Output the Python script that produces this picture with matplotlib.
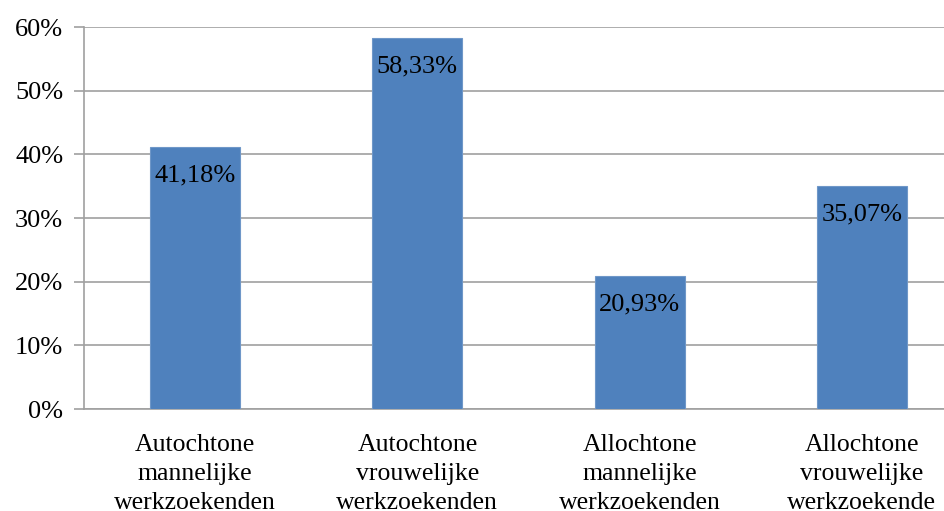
import matplotlib
matplotlib.use("Agg")
import matplotlib.pyplot as plt

categories = ["Autochtone\nmannelijke\nwerkzoekenden",
              "Autochtone\nvrouwelijke\nwerkzoekenden",
              "Allochtone\nmannelijke\nwerkzoekenden",
              "Allochtone\nvrouwelijke\nwerkzoekende"]
values = [41.18, 58.33, 20.93, 35.07]
value_labels = ["41,18%", "58,33%", "20,93%", "35,07%"]
yticks = [0, 10, 20, 30, 40, 50, 60]
ytick_labels = ["0%", "10%", "20%", "30%", "40%", "50%", "60%"]

plt.rcParams['font.family'] = ['Liberation Serif', 'DejaVu Serif']

fig = plt.figure(figsize=(9.44, 5.11), dpi=100)
ax = fig.add_axes([84/944, (511-409)/511, 889/944, (409-27)/511])

x = list(range(len(categories)))
ax.bar(x, values, width=0.405, color="#4F81BD", edgecolor="#6F97C8", linewidth=0.8, zorder=3)
ax.set_xlim(-0.5, len(categories) - 0.5)
ax.set_ylim(0, 60)
ax.set_yticks(yticks)
ax.set_yticklabels(ytick_labels, fontsize=19)
ax.set_xticks(x)
ax.set_xticklabels(categories, fontsize=18.5, linespacing=1.4)
ax.tick_params(axis='x', length=0, pad=18)
ax.tick_params(axis='y', length=7, width=1.2, color="#A0A0A0", pad=8)

ax.grid(axis='y', color="#A0A0A0", linewidth=1.2, zorder=0)
for s in ['top', 'right']:
    ax.spines[s].set_visible(False)
ax.spines['left'].set_color("#A0A0A0")
ax.spines['left'].set_linewidth(1.2)
ax.spines['bottom'].set_color("#A0A0A0")
ax.spines['bottom'].set_linewidth(1.2)

for xi, v, lab in zip(x, values, value_labels):
    ax.annotate(lab, (xi, v), xytext=(0, -20.5), textcoords='offset points',
                ha='center', va='center', fontsize=19, color='black', zorder=4)

fig.savefig("out.png", dpi=100)
